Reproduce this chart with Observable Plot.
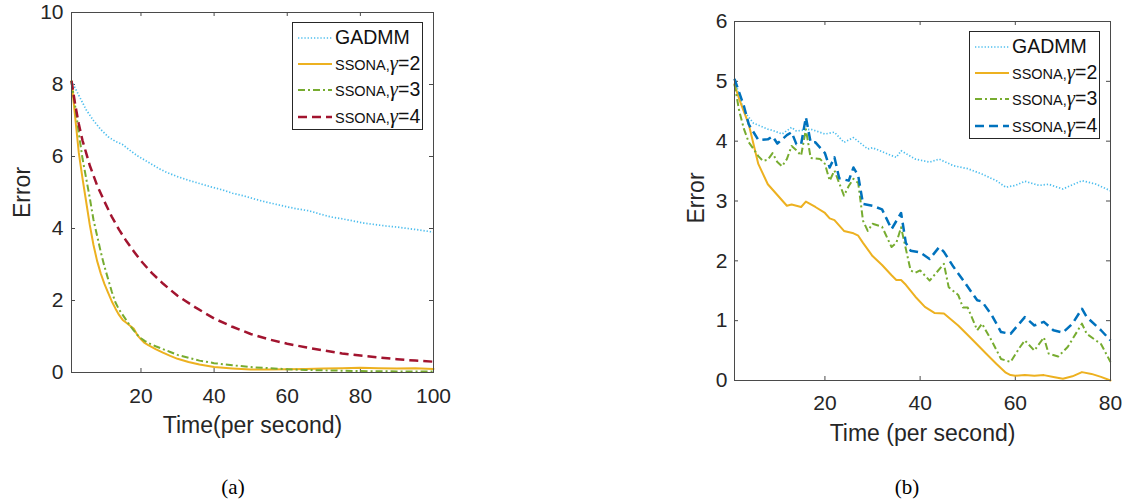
<!DOCTYPE html>
<html>
<head>
<meta charset="utf-8">
<script src="https://cdn.jsdelivr.net/npm/d3@7"></script>
<script src="https://cdn.jsdelivr.net/npm/@observablehq/plot@0.6"></script>
<style>
  html, body { margin: 0; padding: 0; background: #fff; }
  #root { position: relative; width: 1129px; height: 502px; overflow: hidden; background: #fff;
          font-family: "Liberation Sans", Arial, sans-serif; color: #262626; }
  .panel { position: absolute; top: 0; }
  .legend { position: absolute; border: 1px solid #262626; background: #fff; box-sizing: border-box; }
  .row { position: absolute; left: 0; height: 0; white-space: nowrap; }
  .row svg { position: absolute; left: 5px; top: -5px; }
  .row .txt { position: absolute; left: 42px; top: 0; transform: translateY(-52%); line-height: 1; white-space: nowrap; }
  .big { font-family: "Liberation Sans", Arial, sans-serif; font-size: 19.5px; color: #111; }
  .small { font-family: "Liberation Sans Narrow", "Liberation Sans", Arial, sans-serif; font-size: 14.5px; color: #111; }
  .gam { font-family: "Liberation Serif", "Times New Roman", serif; font-style: italic; font-size: 21px; color: #111; }
  .cap { position: absolute; font-family: "Liberation Serif", "Times New Roman", serif; font-size: 21px; color: #000; transform: translate(-50%, -50%); }
</style>
</head>
<body>
<div id="root"></div>
<script>
// ---------------- Panel (a) data ----------------
const aGadmmT = [1,3,5,7,9,11,13,15,17,19,21,23,25,27,30,33,36,39,42,45,48,51,54,57,60,63,66,69,72,75,78,81,84,87,90,93,96,100];
const aGadmmE = [8.1,7.7,7.3,7.0,6.75,6.55,6.42,6.33,6.17,6.02,5.9,5.78,5.66,5.56,5.44,5.34,5.25,5.16,5.08,4.98,4.91,4.82,4.74,4.67,4.6,4.54,4.49,4.4,4.32,4.27,4.21,4.15,4.11,4.07,4.04,4.0,3.96,3.9];

const aG2T = [1,2,3,4,5,6,7,8,9,10,11,12,13,14,15,16,17,18,19,20,21,22,24,26,28,30,33,36,40,45,50,55,60,65,70,75,80,85,90,95,100];
const aG2E = [8.1,7.1,6.1,5.4,4.75,4.1,3.55,3.1,2.75,2.46,2.22,1.98,1.78,1.6,1.46,1.38,1.3,1.22,1.04,0.92,0.82,0.76,0.65,0.55,0.46,0.38,0.29,0.22,0.15,0.11,0.08,0.08,0.09,0.1,0.11,0.12,0.13,0.12,0.11,0.12,0.1];

const aG3T = [1,2,3,4,5,6,7,8,9,10,11,12,13,14,15,16,17,18,19,20,21,22,24,26,28,30,33,36,40,45,50,55,60,65,70,75,80,90,100];
const aG3E = [8.1,7.4,6.65,5.95,5.4,4.85,4.25,3.8,3.35,2.95,2.6,2.25,1.95,1.75,1.6,1.45,1.3,1.17,1.05,0.95,0.88,0.82,0.73,0.65,0.57,0.49,0.41,0.33,0.26,0.2,0.15,0.12,0.09,0.07,0.06,0.05,0.04,0.03,0.03];

const aG4T = [1,2,3,4,5,6,8,10,12,14,16,18,20,23,26,30,35,40,45,50,55,60,65,70,75,80,85,90,95,100];
const aG4E = [8.1,7.45,6.9,6.45,6.1,5.75,5.2,4.75,4.33,3.97,3.65,3.37,3.1,2.76,2.47,2.13,1.8,1.5,1.27,1.07,0.92,0.8,0.7,0.61,0.53,0.47,0.42,0.37,0.33,0.3];

const aXTicks = [20,40,60,80,100];
const aYTicks = [0,2,4,6,8,10];

// ---------------- Panel (b) data ----------------
const bGadmmT = [1,3,5,8,9,11,13,14,17,20,22,24,26,29,30,34,35,36,39,42,44,47,50,53,56,58,60,62,65,67,70,74,77,80];
const bGadmmE = [5.04,4.5,4.3,4.2,4.18,4.12,4.23,4.17,4.2,4.12,4.15,3.98,4.06,3.87,3.89,3.76,3.73,3.84,3.7,3.65,3.7,3.59,3.54,3.45,3.34,3.23,3.26,3.33,3.26,3.28,3.2,3.34,3.28,3.17];

const bG2T = [1,2,4,6,8,10,12,13,15,16,18,20,21,22,24,26,27,28,30,32,34,35,36,37,39,41,43,45,48,51,54,56,58,59,60,62,64,66,68,70,72,74,76,78,80];
const bG2E = [4.95,4.7,4.28,3.62,3.28,3.1,2.92,2.94,2.9,2.99,2.9,2.8,2.71,2.68,2.5,2.46,2.42,2.3,2.08,1.93,1.76,1.68,1.68,1.6,1.4,1.23,1.13,1.12,0.92,0.68,0.44,0.28,0.13,0.09,0.08,0.09,0.08,0.09,0.06,0.03,0.07,0.14,0.11,0.06,0.0];

const bG3T = [1,2,3,4,5,6,7,8,9,10,11,12,13,14,15,16,17,19,20,21,22,23,24,25,26,27,28,29,30,32,34,35,36,38,39,40,42,45,46,48,49,50,52,53,55,57,59,61,62,64,66,67,69,71,74,75,78,80];
const bG3E = [4.95,4.5,4.2,3.98,3.87,3.75,3.67,3.69,3.8,3.65,3.58,3.7,3.92,3.85,3.76,4.2,3.72,3.7,3.62,3.34,3.51,3.3,3.09,3.25,3.37,3.3,2.67,2.5,2.62,2.57,2.23,2.3,2.56,1.84,1.8,1.84,1.67,1.95,1.56,1.43,1.22,1.22,0.84,0.95,0.67,0.36,0.31,0.56,0.67,0.5,0.72,0.45,0.4,0.56,0.95,0.78,0.61,0.31];

const bG4T = [1,3,4,6,8,9,10,12,13,14,15,16,17,18,20,21,22,23,25,26,27,28,30,32,34,36,37,38,40,42,44,45,47,49,52,53,55,57,59,62,64,66,68,70,72,74,75,78,80];
const bG4E = [5.04,4.58,4.28,4.02,4.03,4.08,3.96,4.1,4.15,3.95,3.95,4.4,3.98,3.98,3.8,3.56,3.73,3.38,3.34,3.56,3.42,2.95,2.92,2.86,2.53,2.8,2.3,2.17,2.14,2.03,2.23,2.15,1.9,1.68,1.34,1.32,1.1,0.81,0.78,1.06,0.92,0.98,0.84,0.8,0.95,1.2,1.06,0.84,0.67];

const bXTicks = [20,40,60,80];
const bYTicks = [0,1,2,3,4,5,6];

// ---------------- Series labels / styles ----------------
const seriesNames = ["GADMM", "SSONA,γ=2", "SSONA,γ=3", "SSONA,γ=4"];
const colorsA = ["#4DBEEE", "#EDB120", "#77AC30", "#A2142F"];
const colorsB = ["#4DBEEE", "#EDB120", "#77AC30", "#0072BD"];
const dashes = ["1.3,1.9", null, "7,3,2,3", "9,5"];
const widths = [1.7, 2, 2, 2.5];

const toRows = (t, e) => t.map((d, i) => ({t: d, e: e[i]}));

function panel({series, colors, xDomain, yDomain, xTicks, yTicks, width, height, ml, mr, mt, mb, yPad, xPad, xLabel, xLabelDy, yLabelDx, yLabelDy, tickLen}) {
  const kx = (xDomain[1] - xDomain[0]) / (width - ml - mr);
  const ky = (yDomain[1] - yDomain[0]) / (height - mt - mb);
  const tlx = tickLen * kx, tly = tickLen * ky;
  const axisColor = "#4a4a4a";
  const fmt = d => String(d);
  const marks = [
    Plot.ruleX(xTicks, {x: d => d, y1: yDomain[0], y2: yDomain[0] + tly, stroke: axisColor, strokeWidth: 1}),
    Plot.ruleX(xTicks, {x: d => d, y1: yDomain[1] - tly, y2: yDomain[1], stroke: axisColor, strokeWidth: 1}),
    Plot.ruleY(yTicks, {y: d => d, x1: xDomain[0], x2: xDomain[0] + tlx, stroke: axisColor, strokeWidth: 1}),
    Plot.ruleY(yTicks, {y: d => d, x1: xDomain[1] - tlx, x2: xDomain[1], stroke: axisColor, strokeWidth: 1}),
    Plot.axisX({ticks: xTicks, tickFormat: fmt, tickSize: 0, tickPadding: xPad, fontSize: 21, label: null, color: "#262626"}),
    Plot.axisY({ticks: yTicks, tickFormat: fmt, tickSize: 0, tickPadding: yPad, fontSize: 21, label: null, color: "#262626"}),
  ];
  series.forEach((s, i) => {
    marks.push(Plot.line(s, {x: "t", y: "e", stroke: colors[i], strokeWidth: widths[i],
      strokeDasharray: dashes[i] || undefined, strokeLinejoin: "round", strokeLinecap: dashes[i] ? "butt" : "round"}));
  });
  marks.push(Plot.frame({stroke: axisColor, strokeWidth: 1}));
  marks.push(Plot.text([xLabel], {text: d => d, frameAnchor: "bottom", lineAnchor: "middle", textAnchor: "middle", dy: xLabelDy, fontSize: 23, fill: "#262626"}));
  marks.push(Plot.text(["Error"], {text: d => d, frameAnchor: "left", lineAnchor: "middle", textAnchor: "middle", dx: yLabelDx, dy: yLabelDy, rotate: -90, fontSize: 23, fill: "#262626"}));
  return Plot.plot({
    width, height, marginLeft: ml, marginRight: mr, marginTop: mt, marginBottom: mb,
    x: {domain: xDomain, axis: null},
    y: {domain: yDomain, axis: null},
    style: {fontFamily: '"Liberation Sans", Arial, sans-serif', fontSize: "21px", color: "#262626", background: "#fff", overflow: "visible"},
    marks
  });
}

function legend(root, {left, top, width, height, colors}) {
  const box = document.createElement("div");
  box.className = "legend";
  Object.assign(box.style, {left: left + "px", top: top + "px", width: width + "px", height: height + "px"});
  const rowY = [14.5, 40.8, 67.2, 93.5];
  seriesNames.forEach((name, i) => {
    const row = document.createElement("div");
    row.className = "row";
    row.style.top = rowY[i] + "px";
    const dash = dashes[i] ? ` stroke-dasharray="${dashes[i]}"` : "";
    row.innerHTML = `<svg width="34" height="10"><line x1="0" y1="5" x2="34" y2="5" stroke="${colors[i]}" stroke-width="${widths[i]}"${dash}/></svg>`;
    const txt = document.createElement("span");
    txt.className = "txt";
    if (i === 0) {
      txt.innerHTML = `<span class="big">${name}</span>`;
    } else {
      const [pre, post] = name.split("γ");
      txt.innerHTML = `<span class="small">${pre}</span><span class="gam">γ</span><span class="big">${post}</span>`;
    }
    row.appendChild(txt);
    box.appendChild(row);
  });
  root.appendChild(box);
}

const root = document.getElementById("root");

const plotA = panel({
  series: [toRows(aGadmmT, aGadmmE), toRows(aG2T, aG2E), toRows(aG3T, aG3E), toRows(aG4T, aG4E)],
  colors: colorsA,
  xDomain: [1, 100], yDomain: [0, 10], xTicks: aXTicks, yTicks: aYTicks,
  width: 450, height: 460, ml: 71, mr: 17, mt: 12, mb: 88,
  yPad: 8, xPad: 16, xLabel: "Time(per second)", xLabelDy: 53, yLabelDx: -49, yLabelDy: 0, tickLen: 4
});
plotA.classList.add("panel");
plotA.style.left = "0px";
root.appendChild(plotA);

const plotB = panel({
  series: [toRows(bGadmmT, bGadmmE), toRows(bG2T, bG2E), toRows(bG3T, bG3E), toRows(bG4T, bG4E)],
  colors: colorsB,
  xDomain: [1, 80], yDomain: [0, 6], xTicks: bXTicks, yTicks: bYTicks,
  width: 489, height: 460, ml: 94, mr: 19, mt: 21, mb: 80,
  yPad: 7, xPad: 15, xLabel: "Time (per second)", xLabelDy: 53, yLabelDx: -38, yLabelDy: -3, tickLen: 4
});
plotB.classList.add("panel");
plotB.style.left = "640px";
root.appendChild(plotB);

legend(root, {left: 292, top: 22, width: 131, height: 108, colors: colorsA});
legend(root, {left: 969, top: 31, width: 131, height: 108, colors: colorsB});

[["(a)", 233, 487], ["(b)", 907, 487]].forEach(([t, x, y]) => {
  const c = document.createElement("div");
  c.className = "cap";
  c.textContent = t;
  c.style.left = x + "px";
  c.style.top = y + "px";
  root.appendChild(c);
});
</script>
</body>
</html>
